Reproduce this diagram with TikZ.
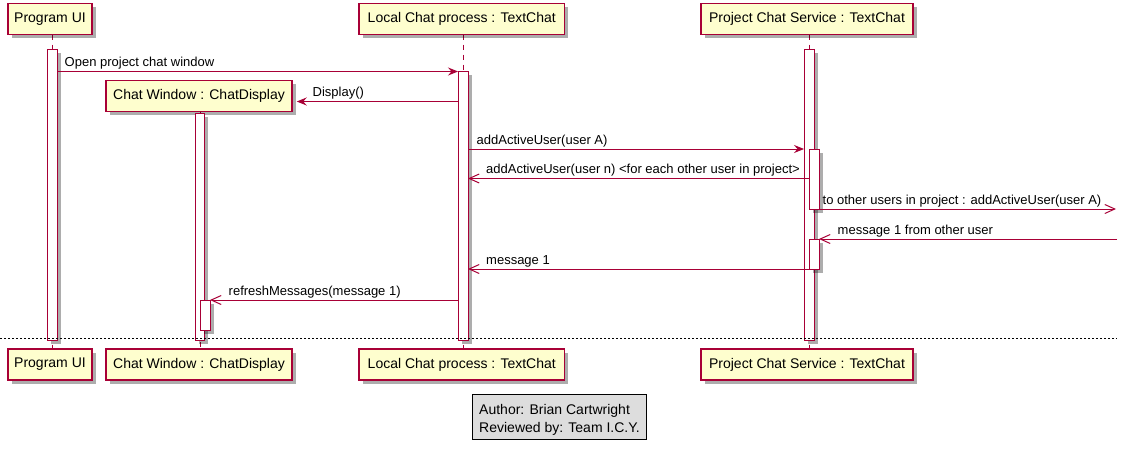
\documentclass[tikz,border=0pt]{standalone}
\usepackage{fontspec}
\setmainfont{Liberation Sans}
\usetikzlibrary{arrows.meta,shadows}
\definecolor{pfill}{HTML}{FEFECE}
\definecolor{pline}{HTML}{A80036}
\definecolor{nfill}{HTML}{DDDDDD}
\begin{document}
\begin{tikzpicture}[x=1pt,y=-1pt,
  shad/.style={drop shadow={shadow xshift=3.5pt,shadow yshift=-3.5pt,opacity=0.32,fill=black}},
  part/.style={draw=pline,line width=1.5pt,fill=pfill,inner sep=0pt,minimum height=31pt,
    font=\fontsize{14}{16}\selectfont,shad},
  life/.style={draw=pline,line width=1pt,dash pattern=on 5pt off 5pt},
  actbar/.style={draw=pline,line width=1pt,fill=white,shad},
  sync/.style={draw=pline,line width=1pt,-{Stealth[length=10pt,width=8pt,inset=3.5pt]}},
  async/.style={draw=pline,line width=1pt,-{Straight Barb[length=10pt,width=9pt]}},
  lbl/.style={inner sep=0pt,anchor=base west,font=\fontsize{13}{15}\selectfont},
  sep/.style={draw=black,line width=0.8pt,dash pattern=on 2pt off 2pt},
  note/.style={draw=black,line width=1pt,fill=nfill,inner xsep=5.5pt,inner ysep=0pt,
    minimum width=174pt,minimum height=45pt,align=left,font=\fontsize{14}{18}\selectfont}]
\useasboundingbox (0,0) rectangle (1127,450);

% lifelines
\coordinate (uiT) at (52.5,34.5);   \coordinate (uiB) at (52.5,349);
\coordinate (lcT) at (463,34.5);    \coordinate (lcB) at (463,349);
\coordinate (pcT) at (809,34.5);    \coordinate (pcB) at (809,349);
\coordinate (cwT) at (200,112);     \coordinate (cwB) at (200,349);
\draw[life] (uiT) -- (uiB);
\draw[life] (lcT) -- (lcB);
\draw[life] (pcT) -- (pcB);
\draw[life] (cwT) -- (cwB);

% participants (top)
\node[part,minimum width=84pt]    (ui)  at (50,19)      {Program UI};
\node[part,minimum width=205.5pt] (lc)  at (461.75,19)  {Local Chat process : TextChat};
\node[part,minimum width=212pt]   (pc)  at (807,19)     {Project Chat Service : TextChat};
\node[part,minimum width=186pt]   (cw)  at (199,95.75)  {Chat Window : ChatDisplay};

% participants (bottom)
\node[part,minimum width=84pt]    (uib) at (50,364.5)     {Program UI};
\node[part,minimum width=186pt]   (cwb) at (199,364.5)    {Chat Window : ChatDisplay};
\node[part,minimum width=205.5pt] (lcb) at (461.75,364.5) {Local Chat process : TextChat};
\node[part,minimum width=212pt]   (pcb) at (807,364.5)    {Project Chat Service : TextChat};

% activation bars
\draw[actbar] (47.5,49) rectangle (57.5,340);
\draw[actbar] (458,71.5) rectangle (468,340);
\draw[actbar] (804,49) rectangle (814,340);
\draw[actbar] (809,149) rectangle (819,209);
\draw[actbar] (809,239) rectangle (819,269);
\draw[actbar] (195.5,113) rectangle (204.5,340);
\draw[actbar] (200,300) rectangle (210,330);

% message end points
\coordinate (m1a) at (57.5,71.5);  \coordinate (m1b) at (458,71.5);
\coordinate (m2a) at (458,101.5);  \coordinate (m2b) at (cw.east |- m2a);
\coordinate (m3a) at (468,149);    \coordinate (m3b) at (804,149);
\coordinate (m4a) at (809,178.5);  \coordinate (m4b) at (468,178.5);
\coordinate (m5a) at (819,209);    \coordinate (m5b) at (1116,209);
\coordinate (m6a) at (1117,239);   \coordinate (m6b) at (819,239);
\coordinate (m7a) at (809,269);    \coordinate (m7b) at (468,269);
\coordinate (m8a) at (458,300);    \coordinate (m8b) at (210,300);

\draw[sync]  (m1a) -- (m1b);
\draw[sync]  (m2a) -- ([xshift=4pt]m2b);
\draw[sync]  (m3a) -- (m3b);
\draw[async] (m4a) -- (m4b);
\draw[async] (m5a) -- (m5b);
\draw[async] (m6a) -- (m6b);
\draw[async] (m7a) -- (m7b);
\draw[async] (m8a) -- (m8b);

% message labels
\node[lbl] (l1) at (64.5,66.5)  {Open project chat window};
\node[lbl] (l2) at (312.5,96.5) {Display()};
\node[lbl] (l3) at (476.5,144)  {addActiveUser(user A)};
\node[lbl] (l4) at (486,173.5)  {addActiveUser(user n) <for each other user in project>};
\node[lbl] (l5) at (822.5,204)  {to other users in project : addActiveUser(user A)};
\node[lbl] (l6) at (837.5,234)  {message 1 from other user};
\node[lbl] (l7) at (486,264)    {message 1};
\node[lbl] (l8) at (228.5,295)  {refreshMessages(message 1)};

% separator
\coordinate (sepL) at (0,338); \coordinate (sepR) at (1117,338);
\draw[sep] (sepL) -- (sepR);

% footer note
\node[note,anchor=north west] (foot) at (472,394) {\rule{0pt}{16pt}Author: Brian Cartwright\\Reviewed by: Team I.C.Y.};
\end{tikzpicture}
\end{document}
